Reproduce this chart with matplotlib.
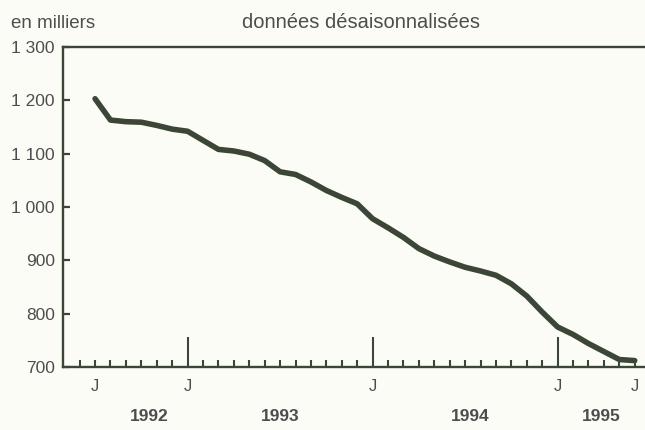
import matplotlib
matplotlib.use("Agg")
import matplotlib.pyplot as plt
import numpy as np

plt.rcParams['font.family'] = ['Liberation Sans', 'DejaVu Sans']

# mois : 0 = juillet 1992 ... 35 = juin 1995
mois = np.arange(36)
effectifs = [1203, 1163, 1160, 1159, 1153, 1146, 1142, 1125, 1108, 1105, 1099, 1087,
             1066, 1061, 1047, 1031, 1018, 1006, 978, 961, 943, 922, 908, 897,
             887, 880, 872, 856, 833, 803, 775, 761, 744, 729, 714, 712]

mois_lettres = [0, 6, 18, 30, 35]
janviers = [6, 18, 30]
annees = ["1992", "1993", "1994", "1995"]
annees_pos = [3.5, 12, 24.3, 32.8]
y_ticks = [700, 800, 900, 1000, 1100, 1200, 1300]
y_labels = ["700", "800", "900", "1 000", "1 100", "1 200", "1 300"]

fond = "#fcfcf7"
trait = "#3c4637"
texte = "#4d4d4d"

fig = plt.figure(figsize=(6.45, 4.3), dpi=100, facecolor=fond)
ax = fig.add_axes([63/645, 1-367/430, 1.0-63/645+0.002, 320/430])
ax.set_facecolor(fond)

ax.plot(mois, effectifs, color=trait, lw=4, solid_capstyle='round', solid_joinstyle='round')

ax.set_xlim(-2.08, 35.75)
ax.set_ylim(700, 1300)

for s in ['left', 'bottom', 'top']:
    ax.spines[s].set_color(trait)
    ax.spines[s].set_linewidth(1.7)
ax.spines['right'].set_visible(False)

ax.set_yticks(y_ticks)
ax.set_yticklabels(y_labels)
ax.tick_params(axis='y', direction='in', length=5, width=1.6, color=trait,
               labelsize=12.5, labelcolor=texte, pad=6)

# petites graduations mensuelles, grandes en janvier
ax.set_xticks(janviers)
ax.set_xticklabels([])
ax.set_xticks(np.arange(-1, 36), minor=True)
ax.tick_params(axis='x', which='major', direction='in', length=21.5, width=1.5, color=trait)
ax.tick_params(axis='x', which='minor', direction='in', length=5, width=1.5, color=trait)

tr = ax.get_xaxis_transform()
for m in mois_lettres:
    ax.text(m, -0.06, "J", transform=tr, ha='center', va='center', fontsize=12, color=texte)
for pos, a in zip(annees_pos, annees):
    ax.text(pos, -0.155, a, transform=tr, ha='center', va='center', fontsize=12.5,
            fontweight='bold', color=texte)

fig.text(11/645, 1-23/430, "en milliers", ha='left', va='center', fontsize=13.5, color=texte)
fig.text(361/645, 1-23/430, "données désaisonnalisées", ha='center', va='center',
         fontsize=14.5, color=texte)

fig.savefig("out.png", dpi=100, facecolor=fond)
